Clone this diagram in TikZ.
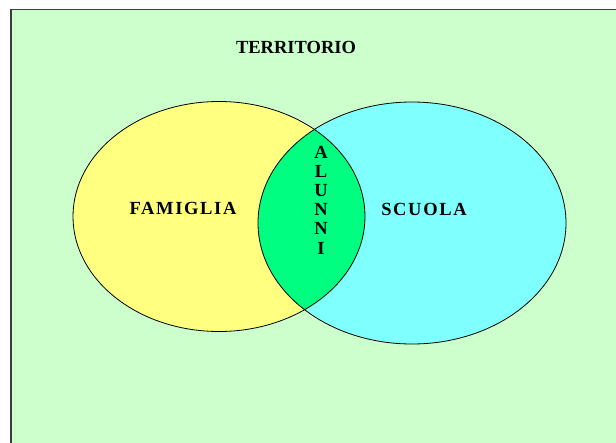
\documentclass[tikz,border=0pt]{standalone}
\usepackage{fontspec}
\setmainfont{Liberation Serif}
\definecolor{bgwhite}{RGB}{255,255,255}
\definecolor{terr}{RGB}{204,255,204}
\definecolor{fam}{RGB}{255,255,128}
\definecolor{scu}{RGB}{128,255,255}
\definecolor{alu}{RGB}{0,255,128}
\definecolor{edge}{RGB}{60,60,60}
\tikzset{
  lbl/.style={inner sep=0pt, font=\bfseries\fontsize{18.5}{19.2}\selectfont},
  outline/.style={draw=black, line width=0.8pt}
}
\begin{document}
\begin{tikzpicture}[x=1pt,y=-1pt]
\useasboundingbox (0,0) rectangle (616,442);
\fill[bgwhite] (0,0) rectangle (616,442);
\path[fill=terr, draw=edge, line width=1.5pt] (11,9.5) rectangle (620,446);
\fill[fam] (219,216.5) ellipse [x radius=146, y radius=115];
\fill[scu] (412,223) ellipse [x radius=154, y radius=121];
\begin{scope}
  \clip (219,216.5) ellipse [x radius=146, y radius=115];
  \fill[alu] (412,223) ellipse [x radius=154, y radius=121];
\end{scope}
\draw[outline] (219,216.5) ellipse [x radius=146, y radius=115];
\draw[outline] (412,223) ellipse [x radius=154, y radius=121];
\node[lbl] (terr) at (296,47) {TERRITORIO};
\node[lbl] (fam) at (183,208) {\addfontfeature{LetterSpace=9}FAMIGLIA};
\node[lbl] (scu) at (424,209) {\addfontfeature{LetterSpace=9}SCUOLA};
\node[lbl, align=center] (alu) at (321,200) {A\\L\\U\\N\\N\\I};
\end{tikzpicture}
\end{document}
